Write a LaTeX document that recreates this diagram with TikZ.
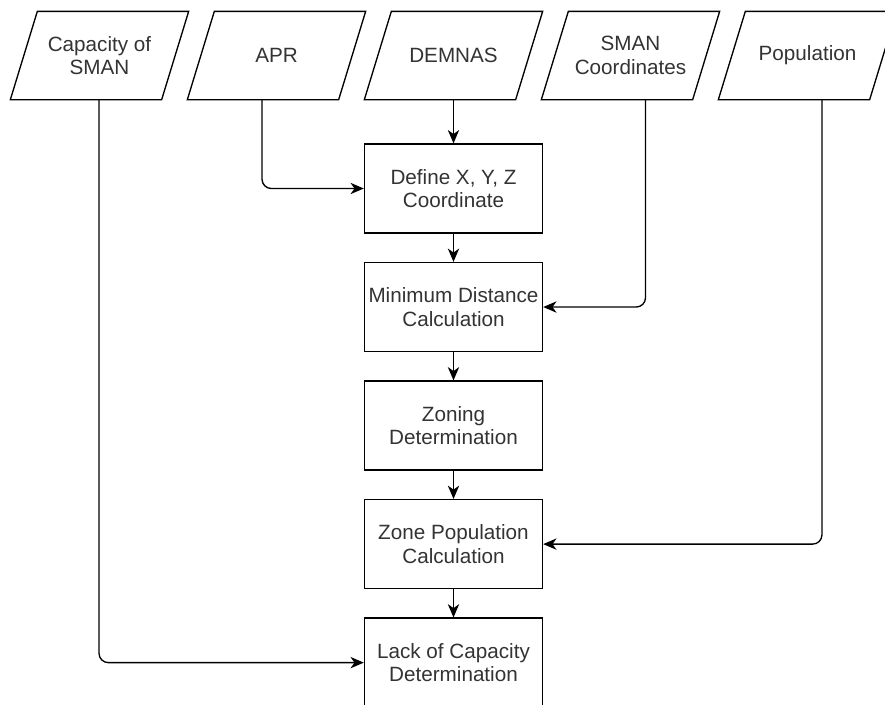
\documentclass[tikz,border=0pt]{standalone}
\usepackage{fontspec}
\setmainfont{Liberation Sans}
\usetikzlibrary{positioning, arrows.meta, calc}

\begin{document}
\begin{tikzpicture}[x=0.75pt, y=-0.75pt, line width=1pt, node distance=132.75pt,
    datain/.style={rectangle, minimum width=112.5pt, minimum height=65.25pt, inner sep=0pt, align=center,
        text=black!80, font=\fontsize{15.5}{17.5}\selectfont},
    procbox/.style={draw, rectangle, minimum width=133.5pt, minimum height=66.75pt, inner sep=0pt, align=center,
        text=black!80, font=\fontsize{15.5}{17.5}\selectfont},
    flow/.style={-{Stealth[length=10pt, width=8.5pt, inset=3pt]}, rounded corners=7pt}]
    \useasboundingbox (0,0) rectangle (885,704);

    % input data
    \node[datain] (cap) at (99.5,55.5) {Capacity of\\SMAN};
    \node[datain] (apr) [right of=cap] {APR};
    \node[datain] (dem) [right of=apr] {DEMNAS};
    \node[datain] (sman) [right of=dem] {SMAN\\Coordinates};
    \node[datain] (pop) [right of=sman] {Population};
    \foreach \n in {cap, apr, dem, sman, pop}
        \draw ([xshift=-10.125pt]\n.south west) -- ([xshift=10.125pt]\n.north west)
            -- ([xshift=10.125pt]\n.north east) -- ([xshift=-10.125pt]\n.south east) -- cycle;

    % processing steps
    \node[procbox] (xyz) [below of=dem, node distance=99.75pt] {Define X, Y, Z\\Coordinate};
    \node[procbox] (dist) [below of=xyz, node distance=88.9pt] {Minimum Distance\\Calculation};
    \node[procbox] (zone) [below of=dist, node distance=88.9pt] {Zoning\\Determination};
    \node[procbox] (zpop) [below of=zone, node distance=88.9pt] {Zone Population\\Calculation};
    \node[procbox] (lack) [below of=zpop, node distance=88.9pt] {Lack of Capacity\\Determination};

    \path[flow]
    (dem.south -| xyz.north) edge (xyz.north)
    (xyz) edge (dist)
    (dist) edge (zone)
    (zone) edge (zpop)
    (zpop) edge (lack);

    \draw[flow] ($(apr.south)+(-14.5,0)$) |- (xyz.west);
    \draw[flow] ($(sman.south)+(15,0)$) |- (dist.east);
    \draw[flow] ($(pop.south)+(14.5,0)$) |- (zpop.east);
    \draw[flow] ($(cap.south)+(-0.5,0)$) |- (lack.west);
\end{tikzpicture}
\end{document}
